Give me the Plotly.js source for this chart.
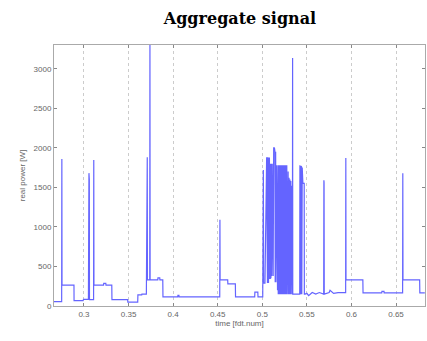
<!DOCTYPE html>
<html>
<head>
<meta charset="utf-8">
<script src="https://cdn.plot.ly/plotly-3.0.1.min.js"></script>
<style>html,body{margin:0;padding:0;background:#fff;}#chart{width:427px;height:341px;}</style>
</head>
<body>
<div id="chart"></div>
<script>
// time (fraction of day) and aggregate real power [W]
var timeValues = [
  0.2664,0.2750,0.2752,0.2754,0.2888,0.2889,0.2990,0.2995,0.3050,0.3052,0.3054,0.3056,0.3058,0.3060,0.3062,
  0.3108,0.3110,0.3112,0.3220,0.3222,0.3245,0.3247,0.3312,0.3314,0.3490,0.3492,0.3603,0.3605,0.3648,0.3650,
  0.3700,0.3702,0.3704,0.3706,0.3708,0.3710,0.3712,0.3738,0.3740,0.3742,0.3828,0.3830,0.3850,0.3852,0.3884,
  0.3886,0.4052,0.4054,0.4065,0.4067,0.4523,0.4525,0.4527,0.4612,0.4614,0.4698,0.4700,0.4915,0.4917,0.4950,
  0.4952,0.5005,
  0.5007,0.5009,0.5012,0.5015,0.5030,0.5049,0.5052,0.5055,0.5058,0.5061,0.5064,0.5067,0.5070,0.5073,0.5080,
  0.5083,0.5090,0.5093,0.5097,0.5103,0.5106,0.5112,0.5115,0.5122,0.5128,0.5135,0.5138,0.5142,0.5145,0.5150,
  0.5153,0.5160,0.5163,0.5168,0.5171,0.5176,0.5179,0.5185,0.5188,0.5195,0.5198,0.5205,0.5208,0.5215,0.5218,
  0.5225,0.5228,0.5235,0.5238,0.5245,0.5248,0.5255,0.5258,0.5265,0.5268,0.5275,0.5278,0.5290,0.5293,0.5300,
  0.5303,0.5310,0.5313,0.5320,0.5323,0.5330,0.5333,0.5338,0.5340,0.5342,0.5375,0.5420,0.5422,0.5425,0.5428,
  0.5431,0.5434,0.5440,0.5443,0.5448,0.5451,0.5455,0.5460,0.5470,0.5472,0.5480,0.5500,0.5520,0.5560,0.5600,
  0.5640,0.5689,0.5691,0.5693,0.5695,0.5750,0.5760,0.5800,0.5850,0.5900,0.5935,0.5937,0.5939,0.6128,0.6130,
  0.6340,0.6342,0.6365,0.6367,0.6574,0.6576,0.6578,0.6765,0.6767,0.6823
];
var powerValues = [
  55,55,1860,265,265,67,67,85,85,1650,100,1680,100,1600,80,
  80,1845,265,265,285,285,265,265,80,80,50,50,140,140,150,
  150,1690,160,1700,1870,1880,330,330,3400,330,330,355,355,330,330,
  115,115,135,135,115,115,1090,330,330,280,280,115,115,175,175,
  115,115,
  1720,280,1720,290,290,1880,300,1880,290,1880,300,1880,290,1870,1870,
  350,350,1800,350,1800,380,1800,380,380,2000,2000,1990,1950,300,1950,
  300,1780,200,1780,200,1780,150,1780,150,1780,150,1780,150,1780,150,
  1780,150,1780,150,1780,150,1780,150,1780,150,1780,150,1700,150,1620,
  150,1600,150,1580,150,1520,150,150,3135,150,150,150,1780,150,1780,
  150,1770,1760,150,1750,150,1560,1550,1550,150,150,160,130,170,150,
  170,150,1590,1560,150,170,200,160,170,170,170,1870,330,330,165,
  165,185,185,165,165,1680,330,330,165,165
];
var xTickValues = [0.3,0.35,0.4,0.45,0.5,0.55,0.6,0.65];
var xTickLabels = ['0.3','0.35','0.4','0.45','0.5','0.55','0.6','0.65'];
var yTickValues = [0,500,1000,1500,2000,2500,3000];
var yTickLabels = ['0','500','1000','1500','2000','2500','3000'];

var trace = {
  x: timeValues, y: powerValues, type: 'scatter', mode: 'lines',
  line: {color: 'rgb(100,100,255)', width: 1.2},
  hoverinfo: 'none'
};
var layout = {
  width: 427, height: 341,
  margin: {l: 54, r: 2, t: 45, b: 35},
  paper_bgcolor: '#fff', plot_bgcolor: '#fff',
  showlegend: false,
  title: {text: 'Aggregate signal', x: 0.562, xanchor: 'center', y: 0.945, yanchor: 'middle',
    font: {family: 'DejaVu Serif', size: 16, color: '#000', weight: 'bold'}},
  xaxis: {
    range: [0.2664, 0.6825], tickvals: xTickValues, ticktext: xTickLabels,
    ticks: 'inside', ticklen: 3, tickcolor: '#888', mirror: 'ticks',
    showline: true, linecolor: '#aaa', linewidth: 1,
    showgrid: true, gridcolor: '#cccccc', griddash: '3px,3px', gridwidth: 1,
    zeroline: false,
    tickfont: {family: 'Liberation Sans', size: 8, color: '#666'},
    title: {text: 'time [fdt.num]', font: {family: 'Liberation Sans', size: 8, color: '#666'}, standoff: 2}
  },
  yaxis: {
    range: [0, 3300], tickvals: yTickValues, ticktext: yTickLabels,
    ticks: 'inside', ticklen: 3, tickcolor: '#888', mirror: 'ticks',
    showline: true, linecolor: '#aaa', linewidth: 1,
    showgrid: false, zeroline: false,
    tickfont: {family: 'Liberation Sans', size: 8, color: '#666'},
    title: {text: 'real power [W]', font: {family: 'Liberation Sans', size: 8, color: '#666'}, standoff: 6}
  }
};
Plotly.newPlot('chart', [trace], layout, {staticPlot: true, displayModeBar: false});
</script>
</body>
</html>
